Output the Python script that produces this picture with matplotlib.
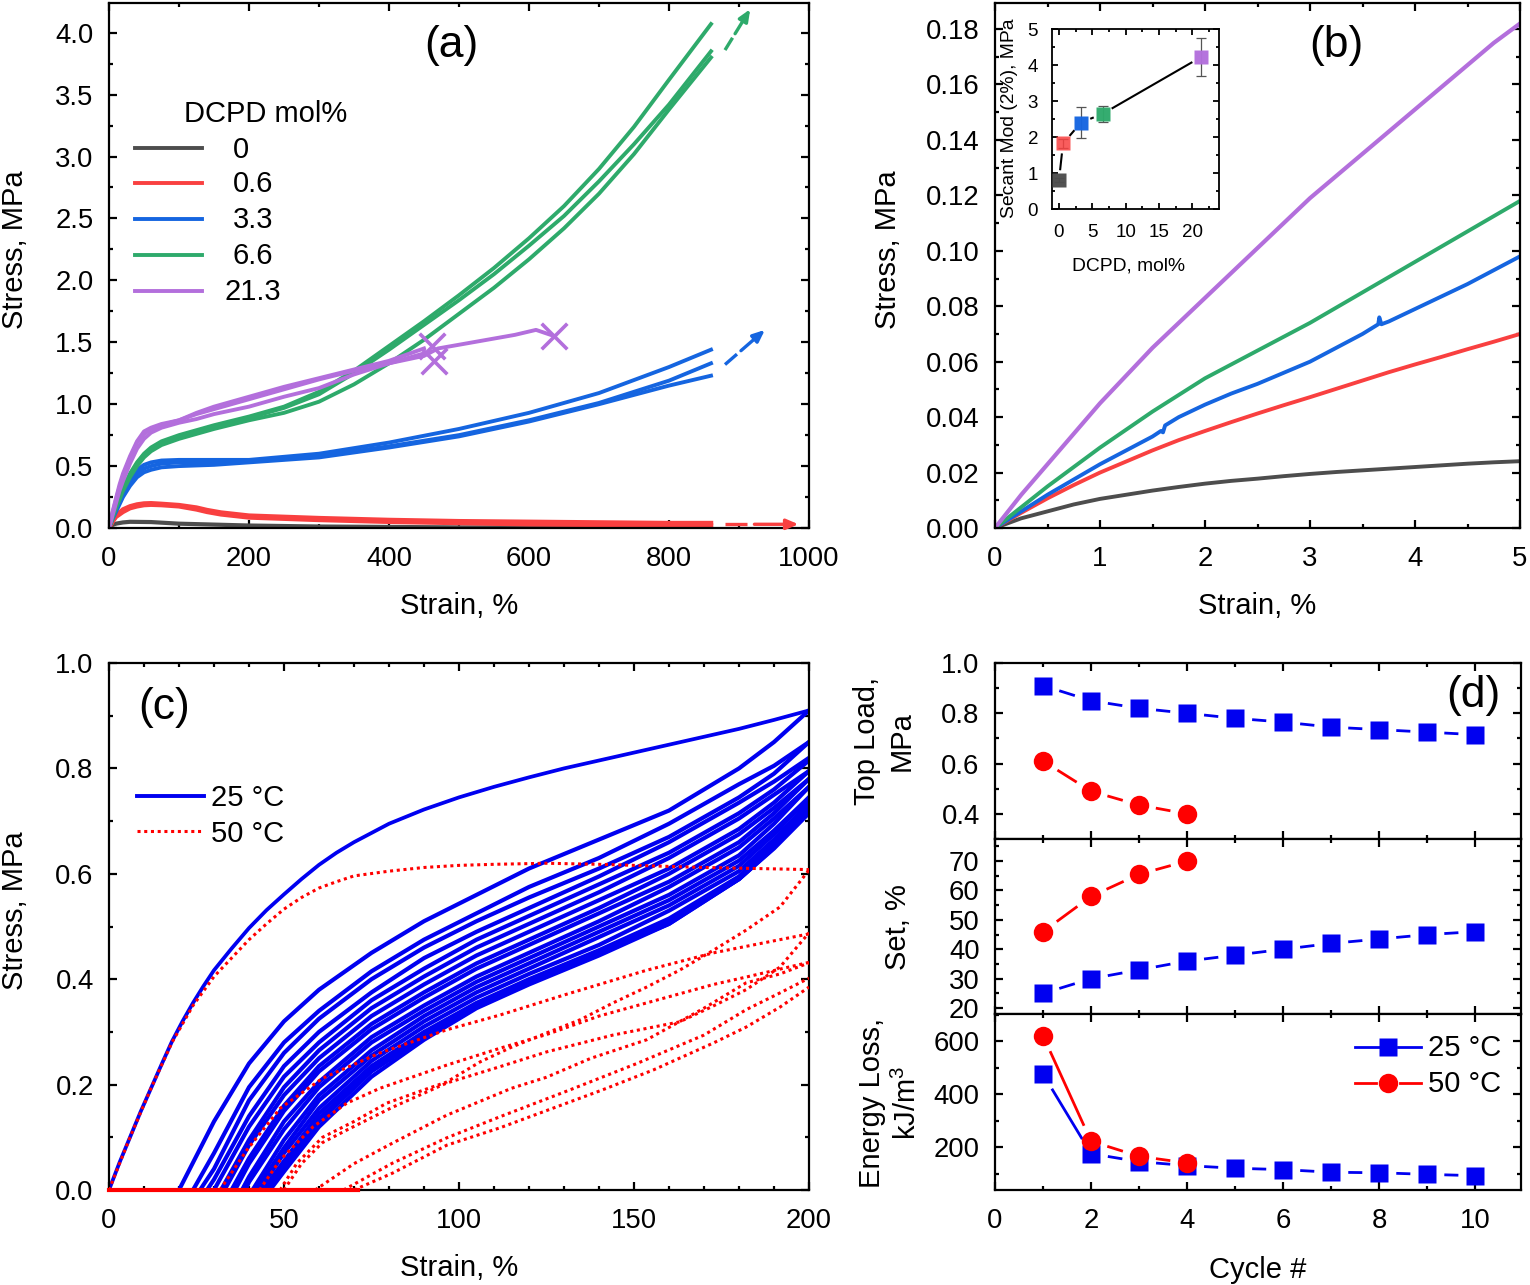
import numpy as np
import matplotlib
matplotlib.use("Agg")
import matplotlib.pyplot as plt
from matplotlib.lines import Line2D
from matplotlib.ticker import MultipleLocator, FormatStrFormatter

plt.rcParams['font.family'] = ['Liberation Sans', 'DejaVu Sans']
plt.rcParams['mathtext.default'] = 'regular'

W, H = 1530, 1285
FS = 19.8   # tick labels
LS = 21     # axis labels, legends

BLACK = '#4d4d4d'
RED = '#f94040'
BLUE = '#1565e0'
GREEN = '#2eaa6b'
PURPLE = '#b36fdc'
D_BLUE = '#0000f0'
D_RED = '#ff0000'

# === Panel (a) data ===
dcpd_labels = ['0', '0.6', '3.3', '6.6', '21.3']

a_black_x = [0, 5, 10, 20, 30, 60, 100, 200, 300, 500, 860]
a_black_y = [0, .025, .035, .045, .05, .048, .035, .02, .012, .005, .002]

a_red_x = [0, 5, 10, 20, 30, 40, 50, 60, 75, 100, 125, 140, 160, 200, 250, 300, 400, 500, 600, 700, 800, 860]
a_red1_y = [0, .06, .10, .15, .175, .19, .198, .20, .195, .185, .165, .145, .125, .10, .09, .08, .065, .055, .05, .045, .04, .04]
a_red2_y = [0, .05, .09, .13, .16, .175, .185, .188, .185, .175, .15, .13, .11, .085, .075, .065, .05, .04, .03, .025, .025, .02]

a_green_x = [0, 5, 10, 15, 20, 30, 40, 50, 60, 75, 100, 125, 150, 200, 250, 300, 350, 400, 450, 500, 550, 600, 650, 700, 750, 800, 860]
a_green1_y = [0, .09, .17, .25, .32, .44, .53, .60, .65, .70, .75, .79, .83, .90, .98, 1.10, 1.27, 1.47, 1.67, 1.88, 2.10, 2.34, 2.60, 2.90, 3.24, 3.62, 4.07]
a_green2_y = [0, .09, .17, .24, .31, .43, .52, .59, .64, .69, .74, .78, .82, .89, .97, 1.08, 1.25, 1.44, 1.64, 1.84, 2.05, 2.28, 2.52, 2.80, 3.10, 3.42, 3.85]
a_green3_y = [0, .08, .16, .23, .30, .41, .50, .57, .62, .67, .72, .76, .80, .87, .93, 1.02, 1.16, 1.33, 1.52, 1.73, 1.94, 2.17, 2.42, 2.70, 3.02, 3.38, 3.80]

a_blue_x = [0, 5, 10, 15, 20, 30, 40, 50, 60, 75, 100, 150, 200, 300, 400, 500, 600, 700, 800, 860]
a_blue1_y = [0, .09, .17, .25, .31, .40, .47, .51, .53, .545, .55, .55, .55, .60, .69, .80, .93, 1.09, 1.30, 1.44]
a_blue2_y = [0, .08, .15, .22, .28, .37, .44, .48, .50, .52, .53, .53, .54, .58, .66, .75, .87, 1.01, 1.19, 1.33]
a_blue3_y = [0, .07, .13, .19, .25, .34, .41, .45, .47, .49, .50, .51, .53, .57, .65, .74, .86, 1.00, 1.15, 1.23]

a_purple_x = [0, 5, 10, 15, 20, 30, 40, 50, 60, 75, 100, 125, 150, 200, 250, 300, 350, 400, 450]
a_purple1_y = [0, .12, .23, .33, .42, .56, .69, .76, .80, .83, .87, .93, .98, 1.06, 1.14, 1.21, 1.28, 1.35, 1.45]
a_purple2_y = [0, .10, .20, .30, .38, .52, .64, .72, .77, .81, .85, .88, .92, .98, 1.06, 1.13, 1.24, 1.33, 1.41]
a_purple3_x = [0, 5, 10, 15, 20, 30, 40, 50, 60, 75, 100, 125, 150, 200, 250, 300, 350, 400, 450, 470, 520, 580, 610, 636]
a_purple3_y = [0, .13, .24, .35, .44, .58, .70, .78, .81, .84, .87, .92, .96, 1.04, 1.12, 1.20, 1.27, 1.33, 1.39, 1.45, 1.50, 1.56, 1.60, 1.55]
a_break_x = [462, 464, 636]
a_break_y = [1.47, 1.35, 1.55]

# === Panel (b) data ===
b_x = [0, .25, .5, .75, 1, 1.25, 1.5, 1.75, 2, 2.25, 2.5, 2.75, 3, 3.25, 3.5, 3.75, 4, 4.25, 4.5, 4.75, 5]
b_black = [0, .0035, .006, .0085, .0105, .012, .0135, .0148, .016, .017, .0178, .0187, .0195, .0202, .0208, .0214, .022, .0226, .0232, .0237, .0241]
b_red = [0, .0055, .0107, .0155, .020, .024, .028, .0317, .035, .0382, .0413, .0443, .0472, .0502, .0532, .0562, .059, .0617, .0645, .0672, .070]
b_green = [0, .0075, .015, .022, .029, .0355, .042, .048, .054, .059, .064, .069, .074, .0795, .085, .0905, .096, .1015, .107, .1125, .118]
b_purple = [0, .012, .023, .034, .045, .055, .065, .074, .083, .092, .101, .110, .119, .127, .135, .143, .151, .159, .167, .175, .182]
b_blue_x = [0, .25, .5, .75, 1, 1.25, 1.5, 1.58, 1.6, 1.62, 1.75, 2, 2.25, 2.5, 2.75, 3, 3.25, 3.5, 3.65, 3.66, 3.68, 3.75, 4, 4.25, 4.5, 4.75, 5]
b_blue = [0, .006, .012, .0175, .023, .028, .033, .035, .0345, .037, .040, .0445, .0485, .052, .056, .060, .065, .070, .0735, .076, .0735, .0745, .079, .0835, .088, .093, .098]

inset_x = [0, 0.6, 3.3, 6.6, 21.3]
inset_y = [0.80, 1.82, 2.40, 2.65, 4.22]
inset_err = [0.05, 0.12, 0.43, 0.22, 0.52]

# === Panel (c) data ===
c_load_x = [0, 3, 6, 9, 12, 15, 18, 21, 24, 27, 30, 35, 40, 45, 50, 55, 60, 65, 70, 80, 90, 100, 110, 120, 130, 140, 150, 160, 170, 180, 190, 200]
c_load_y = [0, .052, .10, .148, .193, .238, .282, .32, .355, .387, .417, .458, .497, .531, .561, .59, .617, .64, .66, .695, .722, .745, .765, .783, .80, .815, .83, .845, .86, .875, .892, .91]

c_grid = [30, 40, 50, 60, 75, 90, 105, 120, 140, 160, 180, 190, 200]
c_starts = [20, 24, 26, 28, 30, 32, 33, 35, 36, 38, 39, 41, 42, 43, 44, 45, 45.5, 46]
n = np.nan
c_cycles = [
    [.13, .24, .32, .38, .45, .51, .56, .61, .665, .72, .80, .85, .91],
    [.07, .195, .28, .34, .415, .475, .525, .575, .63, .695, .77, .805, .85],
    [.04, .17, .26, .325, .40, .46, .51, .555, .61, .67, .745, .79, .85],
    [.02, .14, .235, .30, .375, .44, .49, .535, .595, .66, .735, .775, .82],
    [n, .12, .215, .28, .36, .42, .475, .52, .58, .64, .715, .76, .815],
    [n, .095, .195, .265, .345, .405, .46, .505, .565, .63, .705, .75, .795],
    [n, .085, .18, .25, .33, .39, .445, .49, .55, .61, .685, .735, .795],
    [n, .06, .16, .235, .315, .375, .43, .475, .535, .60, .675, .725, .78],
    [n, .05, .15, .225, .305, .365, .42, .465, .525, .585, .66, .715, .78],
    [n, .025, .13, .205, .29, .35, .405, .45, .51, .575, .65, .705, .765],
    [n, .015, .115, .195, .28, .34, .395, .44, .50, .56, .635, .695, .765],
    [n, n, .095, .18, .265, .33, .385, .43, .49, .55, .625, .682, .745],
    [n, n, .08, .17, .255, .32, .375, .42, .48, .54, .615, .675, .745],
    [n, n, .07, .155, .245, .31, .365, .41, .465, .53, .605, .665, .735],
    [n, n, .055, .145, .235, .30, .355, .40, .455, .515, .595, .66, .735],
    [n, n, .045, .135, .23, .295, .35, .395, .45, .51, .59, .65, .725],
    [n, n, .04, .13, .225, .29, .35, .395, .45, .505, .59, .65, .725],
    [n, n, .035, .12, .215, .285, .345, .39, .445, .505, .59, .648, .715],
]

c_hot_curves = [
    ([0, 6, 12, 18, 24, 30, 35, 40, 45, 50, 55, 60, 65, 70, 80, 90, 100, 110, 125, 140, 155, 170, 185, 200],
     [0, .10, .193, .28, .35, .405, .44, .475, .505, .533, .555, .573, .585, .596, .605, .612, .616, .618, .62, .618, .615, .612, .61, .608]),
    ([31.7, 39.4, 48.9, 61, 77.4, 96.5, 111.7, 130, 153.6, 172.7, 200],
     [0, .076, .155, .212, .26, .304, .332, .37, .417, .45, .486]),
    ([48.9, 53.7, 61, 70, 79.4, 90, 96.5, 106, 115, 125, 134.6, 144, 153.6, 163, 172.7, 182, 191.7, 200],
     [0, .051, .10, .13, .165, .19, .205, .243, .271, .298, .323, .355, .385, .417, .455, .493, .537, .607]),
    ([43, 48.9, 58.3, 68, 77.4, 96.5, 111.7, 125, 140, 153.6, 172.7, 182, 200],
     [0, .057, .12, .165, .193, .237, .269, .295, .33, .355, .39, .404, .432]),
    ([50, 55, 61, 68, 81, 96.5, 111.7, 125, 144, 163, 172, 182, 191.7, 200],
     [0, .05, .09, .114, .157, .203, .234, .262, .294, .319, .347, .38, .423, .488]),
    ([58.9, 70, 81, 96.5, 115, 125, 137.7, 153.6, 170, 182, 191.7, 200],
     [0, .05, .089, .142, .193, .214, .25, .285, .345, .393, .41, .431]),
    ([67, 81, 96.5, 111.7, 131.7, 150.8, 170, 182, 191.7, 200],
     [0, .051, .099, .139, .19, .24, .294, .342, .374, .402]),
    ([70, 81, 96.5, 111.7, 141, 155.6, 172.7, 182, 191.7, 200],
     [0, .032, .085, .118, .19, .228, .279, .309, .347, .385]),
]
c_hot_floor_x = [0, 71]
c_hot_floor_y = [0, 0]

# === Panel (d) data ===
cycles_25 = [1, 2, 3, 4, 5, 6, 7, 8, 9, 10]
cycles_50 = [1, 2, 3, 4]
load_25 = [.91, .85, .82, .80, .78, .765, .745, .735, .725, .715]
load_50 = [.61, .49, .435, .40]
set_25 = [25, 30, 33, 36, 38, 40, 42, 43.5, 45, 46]
set_50 = [46, 58, 65.5, 70]
loss_25 = [475, 175, 145, 130, 120, 115, 105, 103, 97, 92]
loss_50 = [620, 222, 165, 140]


# === Helpers ===
fig = plt.figure(figsize=(W / 100, H / 100), dpi=100)


def px_axes(left, top, right, bottom):
    return fig.add_axes([left / W, 1 - bottom / H, (right - left) / W, (bottom - top) / H])


def style(ax, xmaj, xmin, ymaj, ymin, size=FS, lw=1.6, maj=6, mnr=3.2, pad=11, xpad=13):
    ax.xaxis.set_major_locator(MultipleLocator(xmaj))
    ax.xaxis.set_minor_locator(MultipleLocator(xmin))
    ax.yaxis.set_major_locator(MultipleLocator(ymaj))
    ax.yaxis.set_minor_locator(MultipleLocator(ymin))
    ax.tick_params(which='both', direction='in', top=True, right=True, width=lw, labelsize=size, pad=pad)
    ax.tick_params(axis='x', pad=xpad)
    ax.tick_params(which='major', length=maj)
    ax.tick_params(which='minor', length=mnr)
    for s in ax.spines.values():
        s.set_linewidth(lw)


def px_text(x, y, s, size=LS, **kw):
    kw.setdefault('ha', 'center')
    kw.setdefault('va', 'center')
    return fig.text(x / W, 1 - y / H, s, fontsize=size, **kw)


def px_key(x0, x1, y, **kw):
    fig.add_artist(Line2D([x0 / W, x1 / W], [1 - y / H, 1 - y / H], transform=fig.transFigure, **kw))


def gap_line(ax, x, y, color, gap, lw=2.0):
    # Origin style line+symbol: segments stop short of the markers
    pts = ax.transData.transform(np.column_stack([x, y]))
    inv = ax.transData.inverted()
    for p, q in zip(pts[:-1], pts[1:]):
        d = np.hypot(*(q - p))
        if d <= 2 * gap:
            continue
        u = (q - p) / d
        a, b = inv.transform(p + u * gap), inv.transform(q - u * gap)
        ax.plot([a[0], b[0]], [a[1], b[1]], color=color, lw=lw, solid_capstyle='butt', zorder=2)


def axis_labels(ax, xlab, ylab, xcoord, ycoord):
    ax.set_xlabel(xlab, fontsize=LS)
    ax.set_ylabel(ylab, fontsize=LS)
    ax.xaxis.set_label_coords(0.5, xcoord)
    ax.yaxis.set_label_coords(ycoord, 0.53)


# === Panel (a) ===
ax = px_axes(109, 3, 809, 528)
ax.set_xlim(0, 1000)
ax.set_ylim(0, 4.24)
style(ax, 200, 100, 0.5, 0.25)
ax.yaxis.set_major_formatter(FormatStrFormatter('%.1f'))
lw_a = 2.8
ax.plot(a_black_x, a_black_y, color=BLACK, lw=3)
for red in (a_red1_y, a_red2_y):
    ax.plot(a_red_x, red, color=RED, lw=3.2)
for blue in (a_blue1_y, a_blue2_y, a_blue3_y):
    ax.plot(a_blue_x, blue, color=BLUE, lw=lw_a)
for green in (a_green1_y, a_green2_y, a_green3_y):
    ax.plot(a_green_x, green, color=GREEN, lw=lw_a)
for purple in (a_purple1_y, a_purple2_y):
    ax.plot(a_purple_x, purple, color=PURPLE, lw=lw_a)
ax.plot(a_purple3_x, a_purple3_y, color=PURPLE, lw=lw_a)
ax.scatter(a_break_x, a_break_y, marker='x', s=340, color=PURPLE, linewidths=2.6, zorder=4)
# continuation arrows
for (x0, y0, x1, y1, col) in [(880, 3.86, 916, 4.19, GREEN), (880, 1.32, 937, 1.60, BLUE), (880, .03, 985, .03, RED)]:
    fx, fy = x0 + 0.3 * (x1 - x0), y0 + 0.3 * (y1 - y0)
    ax.plot([x0, fx], [y0, fy], color=col, lw=2.4, solid_capstyle='butt')
    gx, gy = x0 + 0.4 * (x1 - x0), y0 + 0.4 * (y1 - y0)
    ax.annotate('', xy=(x1, y1), xytext=(gx, gy),
                arrowprops=dict(arrowstyle='-|>,head_length=0.7,head_width=0.3', color=col, lw=2.4,
                                shrinkA=0, shrinkB=0))
axis_labels(ax, 'Strain, %', 'Stress, MPa', -0.122, -0.114)
px_text(451, 46, '(a)', size=32)
px_text(266, 113.5, 'DCPD mol%')
for lab, col, ky, tx in zip(dcpd_labels, [BLACK, RED, BLUE, GREEN, PURPLE], [148, 183, 219, 255, 291], [241, 253, 253, 253, 253]):
    px_key(135, 202, ky, color=col, lw=2.8)
    px_text(tx, ky + 1.5, lab)

# === Panel (b) ===
ax = px_axes(995, 3, 1520, 528)
ax.set_xlim(0, 5)
ax.set_ylim(0, 0.1894)
style(ax, 1, 0.5, 0.02, 0.01)
ax.yaxis.set_major_formatter(FormatStrFormatter('%.2f'))
ax.plot(b_x, b_black, color=BLACK, lw=lw_a)
ax.plot(b_x, b_red, color=RED, lw=lw_a)
ax.plot(b_blue_x, b_blue, color=BLUE, lw=lw_a)
ax.plot(b_x, b_green, color=GREEN, lw=lw_a)
ax.plot(b_x, b_purple, color=PURPLE, lw=3)
axis_labels(ax, 'Strain, %', 'Stress, MPa', -0.122, -0.178)
px_text(1336, 46, '(b)', size=32)

ins = px_axes(1052, 29, 1219, 209)
ins.set_xlim(-1.05, 24)
ins.set_ylim(0, 5)
style(ins, 5, 2.5, 1, 0.5, size=13.5, lw=1.3, maj=4.5, mnr=2.5, pad=10, xpad=11)
gap_line(ins, inset_x, inset_y, 'black', 10, lw=1.5)
ins.errorbar(inset_x, inset_y, yerr=inset_err, fmt='none', ecolor='#555555', elinewidth=0.9, capsize=3.5, capthick=0.9, zorder=3)
for ix, iy, col in zip(inset_x, inset_y, [BLACK, RED, BLUE, GREEN, PURPLE]):
    ins.plot([ix], [iy], 's', ms=10, color=col, mec='none', alpha=0.85 if col == RED else 0.97, zorder=4, clip_on=False)
px_text(1129, 266, 'DCPD, mol%', size=13.9)
px_text(1009, 118, 'Secant Mod (2%), MPa', size=13.9, rotation=90)

# === Panel (c) ===
ax = px_axes(109, 663, 809, 1190)
ax.set_xlim(0, 200)
ax.set_ylim(0, 1)
style(ax, 50, 10, 0.2, 0.1)
ax.yaxis.set_major_formatter(FormatStrFormatter('%.1f'))
lw_c = 3.0
ax.plot(c_load_x, c_load_y, color=D_BLUE, lw=2.7)
for x0, row in zip(c_starts, c_cycles):
    keep = [(g, v) for g, v in zip(c_grid, row) if not np.isnan(v)]
    ax.plot([x0] + [k[0] for k in keep], [0] + [k[1] for k in keep], color=D_BLUE, lw=lw_c)
for hx, hy in c_hot_curves:
    ax.plot(hx, hy, color=D_RED, lw=2.2, ls=(0, (1, 1.2)), zorder=3)
ax.plot(c_hot_floor_x, c_hot_floor_y, color=D_RED, lw=3, clip_on=False, zorder=3)
axis_labels(ax, 'Strain, %', 'Stress, MPa', -0.121, -0.114)
px_text(164, 708, '(c)', size=32)
px_key(137, 204, 796, color=D_BLUE, lw=2.8)
px_text(211, 798, '25 °C', ha='left')
px_key(137, 204, 831, color=D_RED, lw=2.2, ls=(0, (1, 1.2)))
px_text(211, 833.5, '50 °C', ha='left')

# === Panel (d) ===
panels = [
    (663, 839, 0.30, 1.0, 0.2, 0.1, '%.1f', load_25, load_50),
    (839, 1014, 18, 77.5, 10, 5, '%d', set_25, set_50),
    (1014, 1190, 38, 702, 200, 100, '%d', loss_25, loss_50),
]
for i, (top, bot, y0, y1, ymaj, ymin, fmt, s25, s50) in enumerate(panels):
    ax = px_axes(995, top, 1521, bot)
    ax.set_xlim(0, 10.95)
    ax.set_ylim(y0, y1)
    style(ax, 2, 1, ymaj, ymin)
    ax.yaxis.set_major_formatter(FormatStrFormatter(fmt))
    if i < 2:
        ax.tick_params(labelbottom=False)
    gap_line(ax, cycles_25, s25, D_BLUE, 17)
    gap_line(ax, cycles_50, s50, D_RED, 17)
    ax.plot(cycles_25, s25, 's', ms=12.5, color=D_BLUE, mec='none', ls='none', zorder=3)
    ax.plot(cycles_50, s50, 'o', ms=14, color=D_RED, mec='none', ls='none', zorder=4)
    if i == 2:
        ax.set_xlabel('Cycle #', fontsize=LS)
        ax.xaxis.set_label_coords(0.5, -0.375)

px_text(1473, 695, '(d)', size=32)
px_text(884, 741, 'Top Load,\nMPa', rotation=90, linespacing=1.3, multialignment='center')
px_text(898, 927, 'Set, %', rotation=90)
px_text(890, 1103, 'Energy Loss,\nkJ/m$^3$', rotation=90, linespacing=1.3, multialignment='center')

px_key(1355, 1379, 1047, color=D_BLUE, lw=2.0)
px_key(1398, 1421, 1047, color=D_BLUE, lw=2.0)
fig.add_artist(Line2D([1388 / W], [1 - 1047 / H], marker='s', ms=12.5, color=D_BLUE, mec='none', transform=fig.transFigure))
px_key(1355, 1376, 1083, color=D_RED, lw=2.0)
px_key(1400, 1421, 1083, color=D_RED, lw=2.0)
fig.add_artist(Line2D([1388 / W], [1 - 1083 / H], marker='o', ms=14, color=D_RED, mec='none', transform=fig.transFigure))
px_text(1428, 1048.5, '25 °C', ha='left')
px_text(1428, 1084.5, '50 °C', ha='left')

fig.savefig('out.png', dpi=100)
